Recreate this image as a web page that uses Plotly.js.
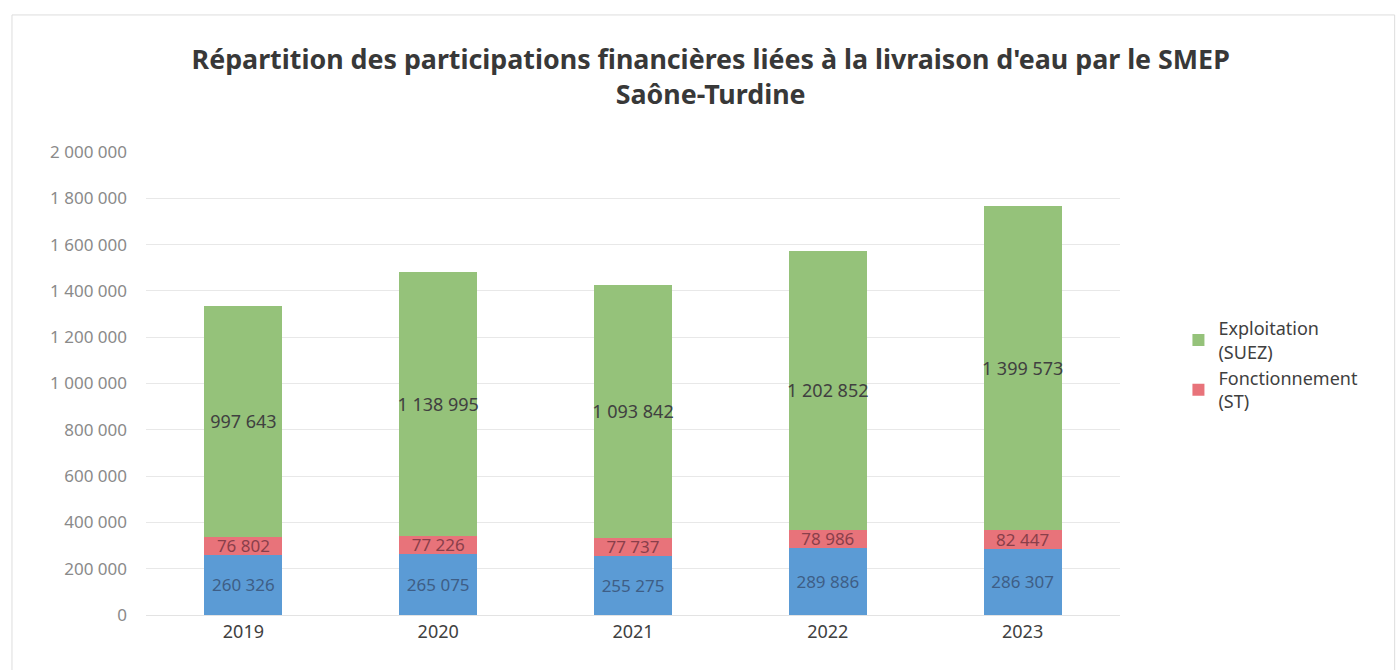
<!DOCTYPE html>
<html>
<head>
<meta charset="utf-8">
<script src="https://cdn.plot.ly/plotly-3.0.1.min.js"></script>
<style>html,body{margin:0;padding:0;background:#fff;}#chart{width:1399px;height:670px;}</style>
</head>
<body>
<div id="chart"></div>
<script>
const years = ['2019', '2020', '2021', '2022', '2023'];
const baseValues = [260326, 265075, 255275, 289886, 286307];
const fonctionnement = [76802, 77226, 77737, 78986, 82447];
const exploitation = [997643, 1138995, 1093842, 1202852, 1399573];
const yTicks = [0, 200000, 400000, 600000, 800000, 1000000, 1200000, 1400000, 1600000, 1800000, 2000000];

const font = '"Noto Sans", sans-serif';

const common = {
  type: 'bar', x: years, texttemplate: '%{y:,.0f}', textposition: 'inside',
  insidetextanchor: 'middle', constraintext: 'none', textangle: 0, hoverinfo: 'y'
};

const traces = [
  Object.assign({}, common, {
    y: baseValues, name: 'Participation', showlegend: false,
    marker: {color: '#5B9BD5'},
    textfont: {family: font, size: 17, color: '#3E5E86'}
  }),
  Object.assign({}, common, {
    y: fonctionnement, name: 'Fonctionnement<br>(ST)',
    marker: {color: '#E8737A'},
    textfont: {family: font, size: 17, color: '#8A3F4A'}
  }),
  Object.assign({}, common, {
    y: exploitation, name: 'Exploitation<br>(SUEZ)',
    marker: {color: '#95C27A'},
    textfont: {family: font, size: 18, color: '#404040'}
  })
];

const layout = {
  width: 1399, height: 670,
  barmode: 'stack', bargap: 0.6,
  separators: ', ',
  paper_bgcolor: '#fff', plot_bgcolor: '#fff',
  margin: {l: 146, r: 279, t: 152, b: 55},
  title: {
    text: "<b>Répartition des participations financières liées à la livraison d'eau par le SMEP<br>Saône-Turdine</b>",
    x: 0.508, xanchor: 'center', y: 0.897, yanchor: 'middle',
    font: {family: font, size: 26.8, color: '#383838'}
  },
  xaxis: {
    type: 'category', tickfont: {family: font, size: 18, color: '#404040'},
    showgrid: false, showline: true, linecolor: '#e3e3e3', ticks: ''
  },
  yaxis: {
    range: [0, 2000000], tickvals: yTicks, tickformat: ',.0f',
    tickfont: {family: font, size: 17, color: '#8a8a8a'},
    gridcolor: '#e8e8e8', zeroline: false, ticks: '', ticklabelstandoff: 18
  },
  legend: {
    x: 1.06, y: 0.54, xanchor: 'left', yanchor: 'middle',
    traceorder: 'reversed', bgcolor: 'rgba(0,0,0,0)',
    font: {family: font, size: 18, color: '#404040'},
    itemwidth: 30, tracegroupgap: 14
  },
  shapes: [{
    type: 'rect', xref: 'paper', yref: 'paper', x0: -0.1376, x1: 1.282, y0: -0.15, y1: 1.296,
    line: {color: '#dddddd', width: 1}
  }]
};

Plotly.newPlot('chart', traces, layout, {displayModeBar: false});
</script>
</body>
</html>
